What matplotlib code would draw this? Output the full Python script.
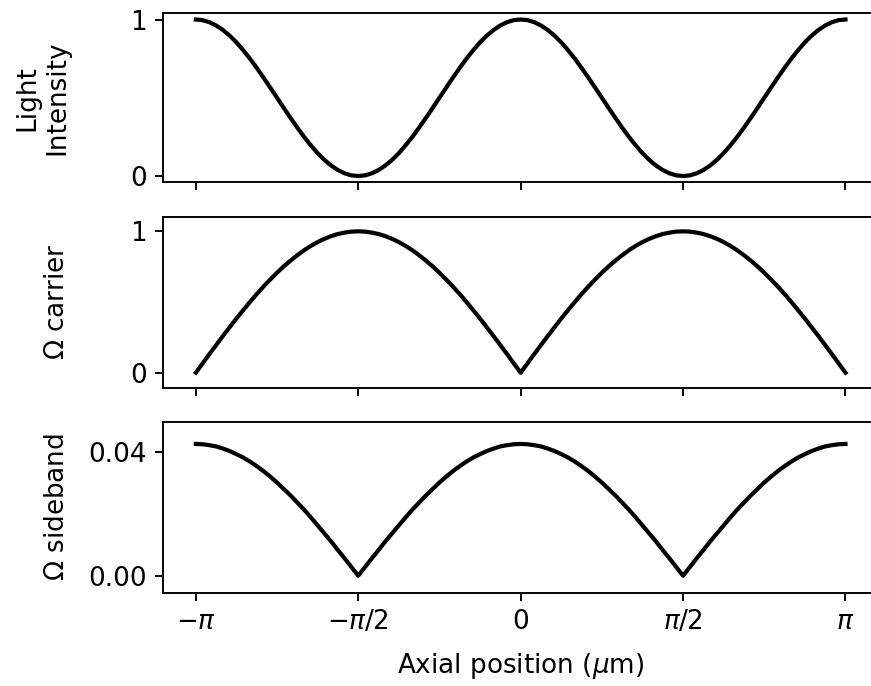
import numpy as np
import matplotlib
matplotlib.use("Agg")
import matplotlib.pyplot as plt

# =========================
# Datos (muestras cada pi/48, de -pi a pi)
# =========================
x_pos = np.linspace(-np.pi, np.pi, 97)

intensidad = [
    1.000, 0.996, 0.983, 0.962, 0.933, 0.897, 0.854, 0.804, 0.750, 0.691, 0.629, 0.565, 0.500,
    0.435, 0.371, 0.309, 0.250, 0.196, 0.146, 0.103, 0.067, 0.038, 0.017, 0.004, 0.000,
    0.004, 0.017, 0.038, 0.067, 0.103, 0.146, 0.196, 0.250, 0.309, 0.371, 0.435, 0.500,
    0.565, 0.629, 0.691, 0.750, 0.804, 0.854, 0.897, 0.933, 0.962, 0.983, 0.996, 1.000,
    0.996, 0.983, 0.962, 0.933, 0.897, 0.854, 0.804, 0.750, 0.691, 0.629, 0.565, 0.500,
    0.435, 0.371, 0.309, 0.250, 0.196, 0.146, 0.103, 0.067, 0.038, 0.017, 0.004, 0.000,
    0.004, 0.017, 0.038, 0.067, 0.103, 0.146, 0.196, 0.250, 0.309, 0.371, 0.435, 0.500,
    0.565, 0.629, 0.691, 0.750, 0.804, 0.854, 0.897, 0.933, 0.962, 0.983, 0.996, 1.000,
]

omega_carrier = [
    0.000, 0.065, 0.131, 0.195, 0.259, 0.321, 0.383, 0.442, 0.500, 0.556, 0.609, 0.659, 0.707,
    0.752, 0.793, 0.831, 0.866, 0.897, 0.924, 0.947, 0.966, 0.981, 0.991, 0.998, 1.000,
    0.998, 0.991, 0.981, 0.966, 0.947, 0.924, 0.897, 0.866, 0.831, 0.793, 0.752, 0.707,
    0.659, 0.609, 0.556, 0.500, 0.442, 0.383, 0.321, 0.259, 0.195, 0.131, 0.065, 0.000,
    0.065, 0.131, 0.195, 0.259, 0.321, 0.383, 0.442, 0.500, 0.556, 0.609, 0.659, 0.707,
    0.752, 0.793, 0.831, 0.866, 0.897, 0.924, 0.947, 0.966, 0.981, 0.991, 0.998, 1.000,
    0.998, 0.991, 0.981, 0.966, 0.947, 0.924, 0.897, 0.866, 0.831, 0.793, 0.752, 0.707,
    0.659, 0.609, 0.556, 0.500, 0.442, 0.383, 0.321, 0.259, 0.195, 0.131, 0.065, 0.000,
]

omega_sideband = [
    0.0427, 0.0426, 0.0423, 0.0419, 0.0412, 0.0404, 0.0394, 0.0383, 0.0370, 0.0355, 0.0339, 0.0321, 0.0302,
    0.0281, 0.0260, 0.0237, 0.0214, 0.0189, 0.0163, 0.0137, 0.0111, 0.0083, 0.0056, 0.0028, 0.0000,
    0.0028, 0.0056, 0.0083, 0.0111, 0.0137, 0.0163, 0.0189, 0.0214, 0.0237, 0.0260, 0.0281, 0.0302,
    0.0321, 0.0339, 0.0355, 0.0370, 0.0383, 0.0394, 0.0404, 0.0412, 0.0419, 0.0423, 0.0426, 0.0427,
    0.0426, 0.0423, 0.0419, 0.0412, 0.0404, 0.0394, 0.0383, 0.0370, 0.0355, 0.0339, 0.0321, 0.0302,
    0.0281, 0.0260, 0.0237, 0.0214, 0.0189, 0.0163, 0.0137, 0.0111, 0.0083, 0.0056, 0.0028, 0.0000,
    0.0028, 0.0056, 0.0083, 0.0111, 0.0137, 0.0163, 0.0189, 0.0214, 0.0237, 0.0260, 0.0281, 0.0302,
    0.0321, 0.0339, 0.0355, 0.0370, 0.0383, 0.0394, 0.0404, 0.0412, 0.0419, 0.0423, 0.0426, 0.0427,
]

xticks = [-np.pi, -np.pi / 2, 0, np.pi / 2, np.pi]
xtick_labels = [r"$-\pi$", r"$-\pi/2$", "0", r"$\pi/2$", r"$\pi$"]

# =========================
# Figura
# =========================
DPI = 172
plt.rcParams["font.size"] = 11

fig, axs = plt.subplots(3, 1, sharex=True, figsize=(871 / DPI, 686 / DPI), dpi=DPI)

izq, ancho = 0.1875, 0.8205
axs[0].set_position([izq, 0.7343, ancho, 0.2464])
axs[1].set_position([izq, 0.4349, ancho, 0.2493])
axs[2].set_position([izq, 0.1360, ancho, 0.2488])

axs[0].plot(x_pos, intensidad, color="black", linewidth=1.75)
axs[0].set_ylim(-0.04, 1.04)
axs[0].set_yticks([0, 1])
axs[0].set_ylabel("Light\nIntensity", labelpad=7.5)

axs[1].plot(x_pos, omega_carrier, color="black", linewidth=1.75)
axs[1].set_ylim(-0.106, 1.104)
axs[1].set_yticks([0, 1])
axs[1].set_ylabel(r"$\Omega$ carrier", labelpad=7.5)

axs[2].plot(x_pos, omega_sideband, color="black", linewidth=1.75)
axs[2].set_ylim(-0.0055, 0.0498)
axs[2].set_yticks([0.0, 0.04])
axs[2].set_yticklabels(["0.00", "0.04"])
axs[2].set_ylabel(r"$\Omega$ sideband", labelpad=7.5)

axs[2].set_xticks(xticks)
axs[2].set_xticklabels(xtick_labels)
axs[2].set_xlabel(r"Axial position ($\mu$m)", labelpad=6.5)

# el borde derecho queda fuera de la imagen en el original
for ax in axs:
    ax.spines["right"].set_visible(False)

fig.align_ylabels(axs)

fig.savefig("out.png", dpi=DPI)
